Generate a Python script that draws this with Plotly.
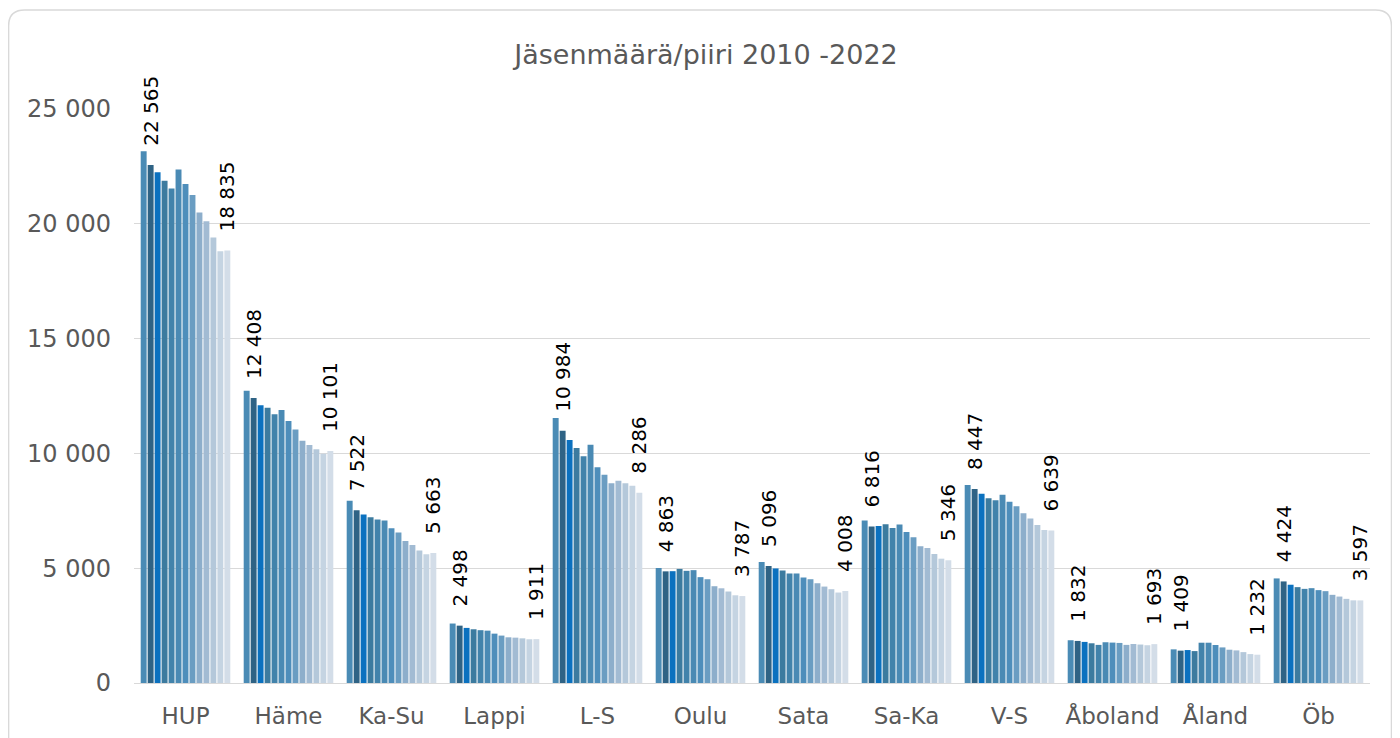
import plotly.graph_objects as go

categories = ["HUP", "Häme", "Ka-Su", "Lappi", "L-S", "Oulu", "Sata", "Sa-Ka", "V-S", "Åboland", "Åland", "Öb"]
years = [str(y) for y in range(2010, 2023)]

# values per district, years 2010..2022
HUP =     [23160, 22565, 22240, 21880, 21540, 22370, 21730, 21250, 20490, 20110, 19400, 18800, 18835]
Hame =    [12730, 12408, 12100, 11990, 11700, 11890, 11410, 11040, 10550, 10370, 10180, 9990, 10101]
KaSu =    [7935, 7522, 7340, 7220, 7120, 7080, 6740, 6555, 6190, 6015, 5770, 5610, 5663]
Lappi =   [2590, 2498, 2400, 2340, 2300, 2280, 2150, 2065, 1990, 1975, 1945, 1905, 1911]
LS =      [11545, 10984, 10580, 10230, 9880, 10380, 9400, 9065, 8700, 8805, 8700, 8590, 8286]
Oulu =    [5010, 4863, 4870, 4970, 4885, 4915, 4610, 4520, 4215, 4125, 3985, 3820, 3787]
Sata =    [5270, 5096, 4990, 4900, 4770, 4770, 4595, 4520, 4345, 4200, 4085, 3940, 4008]
SaKa =    [7080, 6816, 6840, 6915, 6755, 6900, 6580, 6345, 5955, 5880, 5620, 5415, 5346]
VS =      [8620, 8447, 8240, 8050, 7960, 8195, 7890, 7700, 7395, 7160, 6885, 6665, 6639]
Aboland = [1862, 1832, 1790, 1730, 1660, 1775, 1760, 1745, 1660, 1700, 1675, 1645, 1693]
Aland =   [1465, 1409, 1435, 1390, 1755, 1755, 1655, 1550, 1450, 1420, 1345, 1260, 1232]
Ob =      [4555, 4424, 4280, 4175, 4100, 4130, 4045, 4000, 3840, 3765, 3665, 3600, 3597]

districts = [HUP, Hame, KaSu, Lappi, LS, Oulu, Sata, SaKa, VS, Aboland, Aland, Ob]
labelled_years = ["2011", "2022"]

colors = ["#4a8bb5", "#2f6385", "#0b71bf", "#3c7b9f", "#4283ab", "#4a8ab4",
          "#4e8ebb", "#6a9dc2", "#8daecb", "#a2bbd3", "#b4c8da", "#c5d4e2", "#d3dde8"]

FONT = "DejaVu Sans"
PAD = "\u00a0\u00a0\u00a0"

fig = go.Figure()
for i, yr in enumerate(years):
    vals = [d[i] for d in districts]
    show = yr in labelled_years
    fig.add_trace(go.Bar(
        name=yr, x=categories, y=vals,
        marker=dict(color=colors[i], line=dict(width=0)),
        text=vals if show else None,
        texttemplate=(PAD + "%{y:,}") if show else None,
        textposition="outside" if show else "none",
        textangle=-90,
        constraintext="none",
        cliponaxis=False,
        textfont=dict(family=FONT, size=20, color="#000000"),
        hoverinfo="x+y+name",
    ))

# figure is drawn at an 8px page offset; geometry below in figure px
W, H = 1400, 738
L, R, T, B = 125.5, 1362.5, 101, 675
def px(x):
    return (x - L) / (R - L)
def py(y):
    return (B - y) / (B - T)

x0, x1, y0, y1, r = 0, 1384, 2, 760, 16
path = (f"M {px(x0)},{py(y1)} L {px(x0)},{py(y0 + r)} Q {px(x0)},{py(y0)} {px(x0 + r)},{py(y0)} "
        f"L {px(x1 - r)},{py(y0)} Q {px(x1)},{py(y0)} {px(x1)},{py(y0 + r)} L {px(x1)},{py(y1)}")

fig.update_layout(
    width=W, height=H,
    margin=dict(l=L, r=W - R, t=T, b=H - B, pad=0),
    paper_bgcolor="white", plot_bgcolor="white",
    barmode="group", bargap=0.12, bargroupgap=0.15,
    separators=", ",
    showlegend=False,
    title=dict(text="Jäsenmäärä/piiri 2010 -2022", x=698 / W, xanchor="center",
               y=1 - 47 / H, yanchor="middle",
               font=dict(family=FONT, size=27, color="#595959")),
    font=dict(family=FONT, color="#595959"),
    shapes=[dict(type="path", xref="paper", yref="paper", path=path,
                 line=dict(color="#d9d9d9", width=1.5), layer="below")],
)
fig.update_yaxes(range=[0, 25000], dtick=5000, tickformat=",d",
                 gridcolor="#d9d9d9", gridwidth=1.3, zeroline=True,
                 zerolinecolor="#d9d9d9", zerolinewidth=1.3,
                 tickfont=dict(family=FONT, size=24, color="#595959"), ticklabelstandoff=22,
                 showline=False)
fig.update_xaxes(tickfont=dict(family=FONT, size=23, color="#595959"), showline=True,
                 linecolor="#d9d9d9", linewidth=1.3, ticks="", ticklabelstandoff=12)

fig.write_html("out.html")
